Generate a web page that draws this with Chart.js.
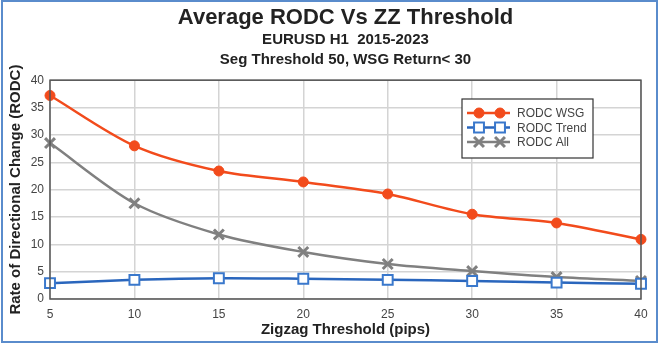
<!DOCTYPE html>
<html>
<head>
<meta charset="utf-8">
<script src="https://cdn.jsdelivr.net/npm/chart.js@4/dist/chart.umd.min.js"></script>
<style>
  body { margin: 0; background: #fff; }
  #wrap { width: 659px; height: 344px; }
</style>
</head>
<body>
<div id="wrap"><canvas id="myChart" width="659" height="344"></canvas></div>
<script>
// chart data
const thresholds = ['5', '10', '15', '20', '25', '30', '35', '40'];
const rodcWsg = [37.2, 28.0, 23.4, 21.4, 19.2, 15.5, 13.9, 10.9];
const rodcTrend = [2.9, 3.5, 3.8, 3.7, 3.5, 3.3, 3.0, 2.8];
const rodcAll = [28.5, 17.5, 11.8, 8.6, 6.4, 5.1, 4.0, 3.3];
const yTicks = [0, 5, 10, 15, 20, 25, 30, 35, 40];

const FONT = 'Arial, "Liberation Sans", sans-serif';

// draws the plot frame, the boxed legend and the outer blue frame
const framePlugin = {
    id: 'frame',
    afterDraw(chart) {
        const ctx = chart.ctx;
        const a = chart.chartArea;
        ctx.save();
        ctx.strokeStyle = '#555';
        ctx.lineWidth = 1.5;
        ctx.strokeRect(a.left, a.top, a.right - a.left, a.bottom - a.top);

        // legend box
        const bx = 462, by = 99, bw = 131, bh = 59;
        ctx.fillStyle = '#fff';
        ctx.fillRect(bx, by, bw, bh);
        ctx.strokeStyle = '#333';
        ctx.lineWidth = 1.2;
        ctx.strokeRect(bx, by, bw, bh);
        chart.data.datasets.forEach((ds, i) => {
            const y = by + 14 + i * 14.5;
            ctx.strokeStyle = ds.borderColor;
            ctx.lineWidth = ds.borderWidth;
            ctx.beginPath();
            ctx.moveTo(bx + 5, y);
            ctx.lineTo(bx + 48, y);
            ctx.stroke();
            [bx + 17, bx + 38].forEach(px => {
                ctx.fillStyle = ds.pointBackgroundColor || ds.backgroundColor;
                ctx.strokeStyle = ds.pointBorderColor || ds.borderColor;
                ctx.lineWidth = ds.pointBorderWidth;
                Chart.helpers.drawPoint(ctx, {
                    pointStyle: ds.pointStyle,
                    radius: ds.pointRadius,
                    borderWidth: ds.pointBorderWidth,
                    rotation: 0
                }, px, y);
            });
            ctx.fillStyle = '#444';
            ctx.font = '12px ' + FONT;
            ctx.textBaseline = 'middle';
            ctx.textAlign = 'left';
            ctx.fillText(ds.label, bx + 55, y + 1);
        });
        ctx.restore();

        ctx.save();
        ctx.strokeStyle = '#5a8ccc';
        ctx.lineWidth = 2;
        ctx.strokeRect(2, 1, 655, 341);
        ctx.restore();
    }
};

const ctx = document.getElementById('myChart').getContext('2d');
const myChart = new Chart(ctx, {
    type: 'line',
    data: {
        labels: thresholds,
        datasets: [{
            label: 'RODC WSG',
            data: rodcWsg,
            borderColor: '#f24b1c',
            backgroundColor: '#f24b1c',
            borderWidth: 2.5,
            pointStyle: 'circle',
            pointRadius: 5,
            pointBorderWidth: 1,
            pointBackgroundColor: '#f24b1c',
            tension: 0.3
        }, {
            label: 'RODC Trend',
            data: rodcTrend,
            borderColor: '#2a66bd',
            backgroundColor: '#ffffff',
            borderWidth: 2.5,
            pointStyle: 'rect',
            pointRadius: 7,
            pointBorderWidth: 2,
            pointBorderColor: '#3a78cc',
            pointBackgroundColor: '#ffffff',
            tension: 0.3
        }, {
            label: 'RODC All',
            data: rodcAll,
            borderColor: '#808080',
            backgroundColor: '#808080',
            borderWidth: 2.5,
            pointStyle: 'crossRot',
            pointRadius: 7,
            pointBorderWidth: 3,
            tension: 0.3
        }]
    },
    options: {
        responsive: false,
        animation: false,
        layout: { padding: { left: 0, right: 18, top: 0, bottom: 0 } },
        plugins: {
            legend: { display: false },
            tooltip: { enabled: false },
            title: {
                display: true,
                fullSize: false,
                text: 'Average RODC Vs ZZ Threshold',
                color: '#222',
                font: { family: FONT, size: 22, weight: 'bold', lineHeight: 1.1 },
                padding: { top: 6, bottom: 0 }
            },
            subtitle: {
                display: true,
                fullSize: false,
                text: ['EURUSD H1  2015-2023', 'Seg Threshold 50, WSG Return< 30'],
                color: '#222',
                font: { family: FONT, size: 15, weight: 'bold', lineHeight: 1.3 },
                padding: { top: 0, bottom: 11 }
            }
        },
        scales: {
            x: {
                grid: { color: '#d4d4d4', lineWidth: 1.5, drawTicks: false },
                border: { display: false },
                ticks: {
                    color: '#444',
                    padding: 8,
                    maxRotation: 0,
                    font: { family: FONT, size: 12 }
                },
                title: {
                    display: true,
                    text: 'Zigzag Threshold (pips)',
                    color: '#222',
                    font: { family: FONT, size: 15, weight: 'bold' },
                    padding: { top: 0, bottom: 5 }
                },
                afterFit(axis) { axis.height = 45; }
            },
            y: {
                min: 0,
                max: 40,
                afterBuildTicks(axis) { axis.ticks = yTicks.map(v => ({ value: v })); },
                grid: { color: '#d4d4d4', lineWidth: 1.5, drawTicks: false },
                border: { display: false },
                ticks: {
                    color: '#444',
                    padding: 6,
                    font: { family: FONT, size: 12 }
                },
                title: {
                    display: true,
                    text: 'Rate of Directional Change (RODC)',
                    color: '#222',
                    font: { family: FONT, size: 15, weight: 'bold' },
                    padding: { top: 7, bottom: 0 }
                },
                afterFit(axis) { axis.width = 50; }
            }
        }
    },
    plugins: [framePlugin]
});
</script>
</body>
</html>
